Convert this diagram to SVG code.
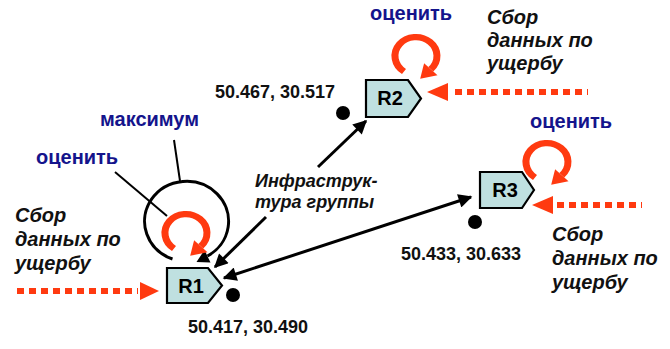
<svg xmlns="http://www.w3.org/2000/svg" width="670" height="349" viewBox="0 0 670 349">
<defs>
<style>
.node{fill:#BFE0E0;stroke:#000;stroke-width:2.2;stroke-linejoin:miter}
.nt{font-family:"Liberation Sans",Arial,sans-serif;font-weight:bold;font-size:20px;fill:#000;text-anchor:middle}
.coord{font-family:"Liberation Sans",Arial,sans-serif;font-weight:bold;font-size:18px;fill:#111}
.blue{font-family:"Liberation Sans",Arial,sans-serif;font-weight:bold;font-size:20px;fill:#14148C}
.it{font-family:"Liberation Sans",Arial,sans-serif;font-weight:bold;font-style:italic;font-size:20px;fill:#111}
.it2{font-family:"Liberation Sans",Arial,sans-serif;font-weight:bold;font-style:italic;font-size:18px;fill:#111}
.conn{stroke:#000;stroke-width:3;fill:none}
.thin{stroke:#000;stroke-width:2;fill:none}
.dots{stroke:#FF3A10;stroke-width:6;stroke-dasharray:7 5;fill:none}
.red{fill:#FF3A10}
.loopArc{stroke:#FF3A10;stroke-width:7;fill:none}
</style>
<marker id="ah" viewBox="0 0 10 10" refX="9" refY="5" markerWidth="5" markerHeight="4.6" markerUnits="strokeWidth" orient="auto-start-reverse">
<path d="M0,0 L10,5 L0,10 z" fill="#000"/>
</marker>
<g id="loop">
<path class="loopArc" d="M -12 17.2 A 21 21 0 1 1 14.8 14.8"/>
<polygon class="red" points="4.2,25.4 21.5,21.5 8.1,8.1"/>
</g>
</defs>

<g id="connectors">
<line class="conn" x1="318" y1="167" x2="366" y2="121" marker-end="url(#ah)"/>
<line class="conn" x1="266" y1="217" x2="215" y2="267" marker-end="url(#ah)"/>
<line class="conn" x1="224" y1="278" x2="471" y2="197" marker-start="url(#ah)" marker-end="url(#ah)"/>
<line class="thin" x1="115" y1="172" x2="167" y2="216"/>
<line class="thin" x1="174" y1="140" x2="180" y2="181"/>
<path class="conn" d="M 172.5 259 A 42 40 0 1 1 207.5 256"/>
<polygon fill="#000" points="196.5,262 210.5,262.5 204.5,250"/>
<line class="dots" x1="17" y1="291" x2="138" y2="291"/>
<polygon class="red" points="159,291 140,282 140,300"/>
<line class="dots" x1="455" y1="92" x2="588" y2="92"/>
<polygon class="red" points="427,92 448,83 448,101"/>
<line class="dots" x1="557" y1="205" x2="642" y2="205"/>
<polygon class="red" points="532,205 553,196 553,214"/>
</g>

<g id="R1">
<use href="#loop" transform="translate(186,233) scale(1,0.9)"/>
<path class="node" d="M167,268 L208,268 L222,285.5 L208,303 L167,303 Z"/>
<text class="nt" x="191" y="293">R1</text>
<circle cx="233" cy="295" r="7" fill="#000"/>
<text class="coord" x="188" y="333">50.417, 30.490</text>
<text class="blue" x="36" y="164">оценить</text>
<text class="blue" x="100" y="126">максимум</text>
<text class="it" x="15" y="222">Сбор</text>
<text class="it" x="15" y="246">данных по</text>
<text class="it" x="15" y="270">ущербу</text>
</g>

<g id="R2">
<use href="#loop" transform="translate(416,56) scale(1,0.9)"/>
<path class="node" d="M366,80 L408,80 L421,98.5 L408,117 L366,117 Z"/>
<text class="nt" x="390" y="105">R2</text>
<circle cx="343" cy="113" r="7" fill="#000"/>
<text class="coord" x="215" y="98">50.467, 30.517</text>
<text class="blue" x="370" y="20">оценить</text>
<text class="it" x="487" y="24">Сбор</text>
<text class="it" x="487" y="47">данных по</text>
<text class="it" x="487" y="70">ущербу</text>
</g>

<g id="R3">
<use href="#loop" transform="translate(547,162) scale(1,0.9)"/>
<path class="node" d="M480,172 L522,172 L534,190 L522,208 L480,208 Z"/>
<text class="nt" x="505" y="197">R3</text>
<circle cx="475" cy="222" r="7" fill="#000"/>
<text class="coord" x="401" y="260">50.433, 30.633</text>
<text class="blue" x="530" y="128">оценить</text>
<text class="it" x="552" y="241">Сбор</text>
<text class="it" x="552" y="265">данных по</text>
<text class="it" x="552" y="289">ущербу</text>
</g>

<g id="label-infra">
<text class="it2" x="255" y="187">Инфраструк-</text>
<text class="it2" x="255" y="208">тура группы</text>
</g>
</svg>
